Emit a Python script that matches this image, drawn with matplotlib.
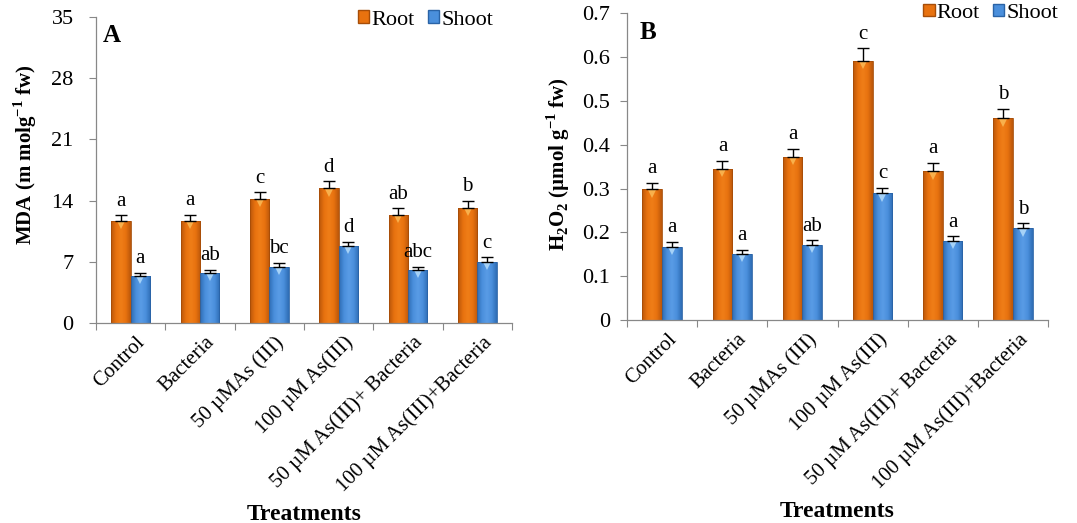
import matplotlib.pyplot as plt
import matplotlib.transforms as mtransforms
import numpy as np
from matplotlib.colors import LinearSegmentedColormap
from matplotlib.patches import Patch

plt.rcParams['font.family'] = ['Liberation Serif', 'DejaVu Serif']
plt.rcParams['mathtext.fontset'] = 'custom'
plt.rcParams['mathtext.rm'] = 'Liberation Serif'
plt.rcParams['mathtext.bf'] = 'Liberation Serif:bold'

treatments = ['Control', 'Bacteria', '50 \u00b5MAs (III)', '100 \u00b5M As(III)',
              '50 \u00b5M As(III)+ Bacteria', '100 \u00b5M As(III)+Bacteria']

# MDA (m mol g-1 fw)
mda_root = [11.7, 11.7, 14.15, 15.4, 12.4, 13.2]
mda_root_err = [0.6, 0.7, 0.8, 0.8, 0.7, 0.75]
mda_shoot = [5.4, 5.7, 6.4, 8.8, 6.05, 6.95]
mda_shoot_err = [0.35, 0.4, 0.5, 0.5, 0.4, 0.55]
mda_root_sig = ['a', 'a', 'c', 'd', 'ab', 'b']
mda_shoot_sig = ['a', 'ab', 'bc', 'd', 'abc', 'c']

# H2O2 (umol g-1 fw)
h2o2_root = [0.298, 0.344, 0.372, 0.592, 0.339, 0.460]
h2o2_root_err = [0.015, 0.020, 0.019, 0.028, 0.020, 0.022]
h2o2_shoot = [0.167, 0.151, 0.171, 0.289, 0.181, 0.209]
h2o2_shoot_err = [0.011, 0.009, 0.011, 0.013, 0.010, 0.012]
h2o2_root_sig = ['a', 'a', 'a', 'c', 'a', 'b']
h2o2_shoot_sig = ['a', 'a', 'ab', 'c', 'a', 'b']

root_cmap = LinearSegmentedColormap.from_list(
    'root', ['#b9560a', '#e8720f', '#f07e18', '#e8720f', '#b9560a'])
shoot_cmap = LinearSegmentedColormap.from_list(
    'shoot', ['#2e6cb4', '#4a8fdc', '#5a9ce6', '#4a8fdc', '#2e6cb4'])

grad = np.linspace(0, 1, 64).reshape(1, -1)
FS = 15


def shaded_bars(ax, x, vals, err, cmap, edge, light, width):
    bars = ax.bar(x, vals, width, color='none', edgecolor=edge, linewidth=0.6,
                  zorder=2)
    for b in bars:
        x0, y0 = b.get_x(), b.get_y()
        w, h = b.get_width(), b.get_height()
        im = ax.imshow(grad, cmap=cmap, aspect='auto', zorder=1.5,
                       extent=(x0, x0 + w, y0, y0 + h), interpolation='bicubic')
        im.set_clip_path(b)
    # bevel highlight at the top of each bar
    shift = mtransforms.offset_copy(ax.transData, fig=ax.figure, y=-3,
                                    units='points')
    ax.plot(x, vals, linestyle='none', marker='v', ms=6, mew=0,
            color=light, transform=shift, zorder=2.5)
    ax.errorbar(x, vals, yerr=[np.zeros(len(vals)), err], fmt='none',
                ecolor='black', elinewidth=1, capsize=4, capthick=1, zorder=3)
    return bars


def panel(ax, root, root_err, shoot, shoot_err, root_sig, shoot_sig,
          ymax, step, fmt, ylabel, tag, ypad, ylab_pos, tag_pos, leg_pos):
    n = len(treatments)
    x = np.arange(n)
    w = 0.28
    shaded_bars(ax, x - w / 2, root, root_err, root_cmap, '#a64d08',
                '#f8b04c', w)
    shaded_bars(ax, x + w / 2, shoot, shoot_err, shoot_cmap, '#2a63a6',
                '#a6d2f7', w)
    off = ymax * 0.015
    for i in range(n):
        ax.text(x[i] - w / 2, root[i] + root_err[i] + off, root_sig[i],
                ha='center', va='bottom', fontsize=FS)
        ax.text(x[i] + w / 2, shoot[i] + shoot_err[i] + off, shoot_sig[i],
                ha='center', va='bottom', fontsize=FS)

    ax.set_xlim(-0.5, n - 0.5)
    ax.set_ylim(0, ymax)
    ticks = np.arange(0, ymax + step / 2, step)
    ax.set_yticks(ticks)
    ax.set_yticklabels([fmt(t) for t in ticks], fontsize=FS + 1)
    ax.set_xticks(np.arange(-0.5, n, 1.0))
    ax.set_xticklabels([])
    ax.set_xticks(x, minor=True)
    ax.set_xticklabels(treatments, minor=True, rotation=45, ha='right',
                       rotation_mode='anchor', fontsize=FS)
    ax.tick_params(axis='x', which='major', length=5, color='#888888')
    ax.tick_params(axis='x', which='minor', length=0, pad=7)
    ax.tick_params(axis='y', length=5, color='#888888', pad=ypad)
    for lab in ax.get_xticklabels(minor=True):
        lab.set_transform(lab.get_transform() + mtransforms.ScaledTranslation(
            5 / 100, 0, ax.figure.dpi_scale_trans))
    for s in ['top', 'right']:
        ax.spines[s].set_visible(False)
    for s in ['left', 'bottom']:
        ax.spines[s].set_color('#888888')
        ax.spines[s].set_linewidth(0.9)
    ax.set_ylabel(ylabel, fontsize=FS, fontweight='bold')
    ax.yaxis.set_label_coords(*ylab_pos)
    ax.set_xlabel('Treatments', fontsize=FS + 2, fontweight='bold')
    ax.xaxis.set_label_coords(0.5, -0.59)
    ax.text(tag_pos[0], tag_pos[1], tag, transform=ax.transAxes,
            fontsize=FS + 3, fontweight='bold', va='center')
    handles = [Patch(facecolor='#e8720f', edgecolor='#a64d08'),
               Patch(facecolor='#4a8fdc', edgecolor='#2a63a6')]
    ax.legend(handles, ['Root', 'Shoot'], loc='center right',
              bbox_to_anchor=leg_pos, ncol=2, frameon=False, fontsize=FS + 1,
              handlelength=0.5, handleheight=0.5, handletextpad=0.1,
              columnspacing=0.6, borderpad=0, borderaxespad=0)


fig = plt.figure(figsize=(10.77, 5.23), dpi=100)
ax1 = fig.add_axes([0.0891, 0.3824, 0.3863, 0.5851])
ax2 = fig.add_axes([0.5822, 0.3881, 0.3909, 0.5865])

panel(ax1, mda_root, mda_root_err, mda_shoot, mda_shoot_err,
      mda_root_sig, mda_shoot_sig, 35, 7, lambda t: f'{t:.0f}',
      'MDA (m molg$^{\\mathbf{-1}}$ fw)', 'A',
      ypad=11, ylab_pos=(-0.138, 0.55), tag_pos=(0.017, 0.938),
      leg_pos=(0.955, 0.99))
panel(ax2, h2o2_root, h2o2_root_err, h2o2_shoot, h2o2_shoot_err,
      h2o2_root_sig, h2o2_shoot_sig, 0.7, 0.1,
      lambda t: '0' if t == 0 else f'{t:.1f}',
      'H$_\\mathbf{2}$O$_\\mathbf{2}$ (\u00b5mol g$^{\\mathbf{-1}}$ fw)', 'B',
      ypad=7, ylab_pos=(-0.131, 0.51), tag_pos=(0.031, 0.936),
      leg_pos=(1.025, 1.0))

fig.savefig('out.png', dpi=100)
